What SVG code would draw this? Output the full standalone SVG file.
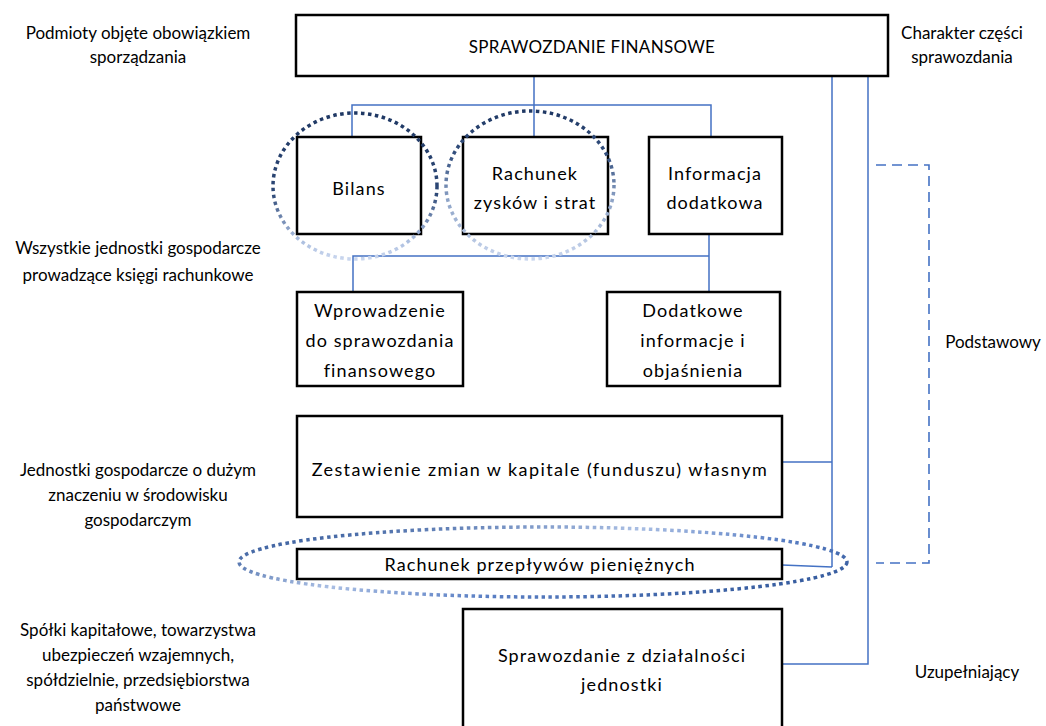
<svg xmlns="http://www.w3.org/2000/svg" width="1046" height="726" viewBox="0 0 1046 726">
  <defs>
    <style>
      .box { fill: #ffffff; stroke: #000000; stroke-width: 2.5; }
      .lbl { font-family: Lato, "Liberation Sans", sans-serif; font-size: 17px; fill: #000000; text-anchor: middle; }
      .btx { font-family: Lato, "Liberation Sans", sans-serif; font-size: 18px; fill: #000000; text-anchor: middle; letter-spacing: 1.1px; }
      .wide { letter-spacing: 1.4px; }
      .ttl { font-family: Lato, "Liberation Sans", sans-serif; font-size: 17px; fill: #000000; text-anchor: middle; letter-spacing: 0.3px; }
      .conn { fill: none; stroke: #4472c4; stroke-width: 1.5; }
      .dash { fill: none; stroke: #4472c4; stroke-width: 1.6; stroke-dasharray: 10 6; }
      .dots { fill: none; stroke-width: 3.5; stroke-dasharray: 3.5 3.5; }
    </style>
    <linearGradient id="gBilans" x1="0" y1="0" x2="0" y2="1">
      <stop offset="0" stop-color="#1f3864"/>
      <stop offset="0.55" stop-color="#2c4775"/>
      <stop offset="0.85" stop-color="#a5b9dc"/>
      <stop offset="1" stop-color="#c9d6ee"/>
    </linearGradient>
    <linearGradient id="gRzis" x1="0" y1="0" x2="0" y2="1">
      <stop offset="0" stop-color="#1f3864"/>
      <stop offset="0.3" stop-color="#34507f"/>
      <stop offset="0.6" stop-color="#8da3c7"/>
      <stop offset="1" stop-color="#c9d6ee"/>
    </linearGradient>
    <linearGradient id="gCash" x1="0" y1="0.2" x2="1" y2="0.8">
      <stop offset="0" stop-color="#2f5597"/>
      <stop offset="0.4" stop-color="#a9bee3"/>
      <stop offset="0.65" stop-color="#5a7fc4"/>
      <stop offset="1" stop-color="#2f5597"/>
    </linearGradient>
  </defs>

  <!-- side captions -->
  <g id="captions">
    <text class="lbl" x="138" y="39">Podmioty objęte obowiązkiem</text>
    <text class="lbl" x="138" y="63">sporządzania</text>
    <text class="lbl" x="962" y="39">Charakter części</text>
    <text class="lbl" x="962" y="63">sprawozdania</text>
    <text class="lbl" x="138" y="254">Wszystkie jednostki gospodarcze</text>
    <text class="lbl" x="138" y="281">prowadzące księgi rachunkowe</text>
    <text class="lbl" x="138" y="476">Jednostki gospodarcze o dużym</text>
    <text class="lbl" x="138" y="501">znaczeniu w środowisku</text>
    <text class="lbl" x="138" y="526">gospodarczym</text>
    <text class="lbl" x="138" y="636">Spółki kapitałowe, towarzystwa</text>
    <text class="lbl" x="138" y="661">ubezpieczeń wzajemnych,</text>
    <text class="lbl" x="138" y="686">spółdzielnie, przedsiębiorstwa</text>
    <text class="lbl" x="138" y="711">państwowe</text>
    <text class="lbl" x="993" y="348">Podstawowy</text>
    <text class="lbl" x="967" y="678">Uzupełniający</text>
  </g>

  <!-- connectors -->
  <g id="connectors">
    <path class="conn" d="M534 76 V137 M352 137 V105 H711 V137"/>
    <path class="conn" d="M709 234 V292 M353 292 V256 H709"/>
    <path class="conn" d="M832 76 V567 M782 462 H832 M782 565 L832 567"/>
    <path class="conn" d="M868 76 V664 H782"/>
    <path class="dash" d="M876 165 H929 V563 H876"/>
  </g>

  <g id="sprawozdanie-finansowe">
    <rect class="box" x="296" y="15" width="592" height="61"/>
    <text class="ttl" x="592" y="53">SPRAWOZDANIE FINANSOWE</text>
  </g>

  <g id="bilans">
    <rect class="box" x="297" y="137" width="124" height="97"/>
    <text class="btx" x="359" y="195">Bilans</text>
  </g>

  <g id="rachunek-zyskow">
    <rect class="box" x="463" y="137" width="145" height="97"/>
    <text class="btx" x="535" y="180">Rachunek</text>
    <text class="btx" x="535" y="209">zysków i strat</text>
  </g>

  <g id="informacja-dodatkowa">
    <rect class="box" x="649" y="137" width="133" height="97"/>
    <text class="btx" x="715" y="180">Informacja</text>
    <text class="btx" x="715" y="209">dodatkowa</text>
  </g>

  <g id="wprowadzenie">
    <rect class="box" x="297" y="292" width="166" height="94"/>
    <text class="btx" x="380" y="317">Wprowadzenie</text>
    <text class="btx" x="380" y="347">do sprawozdania</text>
    <text class="btx" x="380" y="377">finansowego</text>
  </g>

  <g id="dodatkowe-informacje">
    <rect class="box" x="607" y="292" width="173" height="94"/>
    <text class="btx" x="693" y="317">Dodatkowe</text>
    <text class="btx" x="693" y="347">informacje i</text>
    <text class="btx" x="693" y="377">objaśnienia</text>
  </g>

  <g id="zestawienie-zmian">
    <rect class="box" x="297" y="416" width="485" height="101"/>
    <text class="btx wide" x="540" y="476">Zestawienie zmian w kapitale (funduszu) własnym</text>
  </g>

  <g id="rachunek-przeplywow">
    <rect class="box" x="297" y="549" width="485" height="30"/>
    <text class="btx" x="540" y="571">Rachunek przepływów pieniężnych</text>
  </g>

  <g id="sprawozdanie-dzialalnosci">
    <rect class="box" x="463" y="609" width="319" height="140"/>
    <text class="btx" x="622" y="662">Sprawozdanie z działalności</text>
    <text class="btx" x="622" y="691">jednostki</text>
  </g>

  <!-- dotted highlight rings -->
  <g id="highlights">
    <ellipse class="dots" cx="355" cy="186" rx="82" ry="73" stroke="url(#gBilans)"/>
    <ellipse class="dots" cx="530" cy="185" rx="84" ry="74" stroke="url(#gRzis)"/>
    <ellipse class="dots" cx="543" cy="562" rx="304" ry="35" stroke="url(#gCash)"/>
  </g>
</svg>
